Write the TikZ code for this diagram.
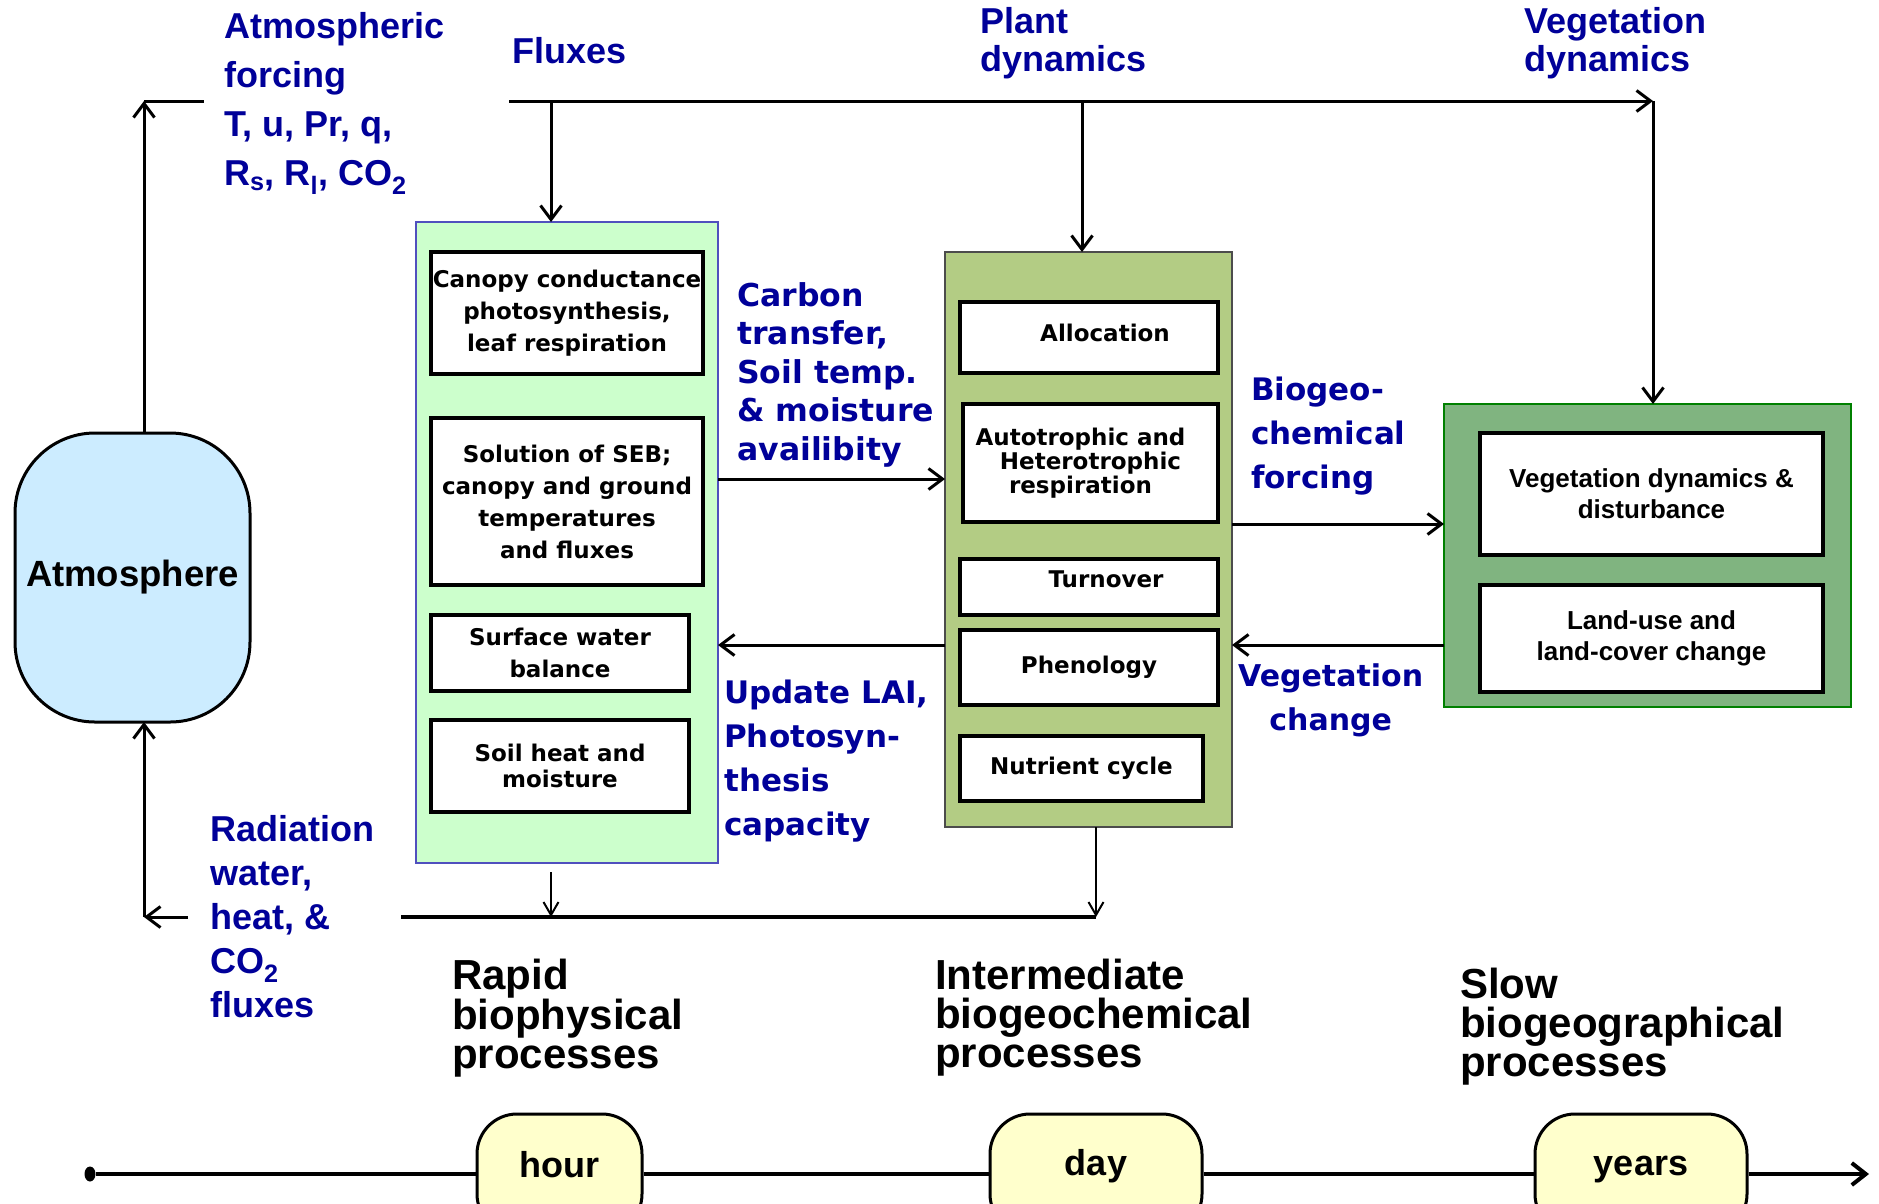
\documentclass[tikz,border=0pt]{standalone}
\usepackage{fontspec}
\setmainfont{Liberation Sans}
\newfontfamily\widefont{DejaVu Sans}
\usetikzlibrary{positioning}
\usetikzlibrary{arrows.meta,shapes}
\usetikzlibrary{calc}
\definecolor{navy}{RGB}{0,0,153}
\definecolor{atmblue}{RGB}{204,236,255}
\definecolor{rapidgreen}{RGB}{204,255,204}
\definecolor{rapidedge}{RGB}{80,80,190}
\definecolor{plantgreen}{RGB}{179,204,132}
\definecolor{vegfill}{RGB}{128,180,128}
\definecolor{vegedge}{RGB}{0,128,0}
\definecolor{pillyellow}{RGB}{255,255,204}
\tikzstyle{container} = [draw, line width=1.5pt, inner sep=0pt, outer sep=0pt]
\tikzstyle{smallbox} = [draw=black, line width=3.5pt, fill=white, inner sep=0pt, align=center, font=\widefont\bfseries\fontsize{23}{32}\selectfont]
\tikzstyle{vegsmallbox} = [smallbox, font=\bfseries\fontsize{26}{31}\selectfont]
\tikzstyle{edge} = [draw, line width=3pt, -{Straight Barb[length=14pt,width=21pt]}]
\tikzstyle{thinedge} = [draw, line width=2pt, -{Straight Barb[length=13pt,width=15pt]}]
\tikzstyle{plainedge} = [draw, line width=3pt]
\tikzstyle{bluelabel} = [text=navy, inner sep=0pt, anchor=north west, align=left, font=\bfseries\fontsize{36}{49}\selectfont]
\tikzstyle{bluewide} = [bluelabel, font=\widefont\bfseries\fontsize{31}{44}\selectfont]
\tikzstyle{timescale} = [inner sep=0pt, anchor=north west, align=left, font=\bfseries\fontsize{42}{39}\selectfont]
\tikzstyle{pill} = [draw, line width=3pt, fill=pillyellow, rounded corners=40pt, minimum height=120pt, font=\bfseries\fontsize{36}{40}\selectfont, text height=26pt, text depth=24pt]

\begin{document}
\begin{tikzpicture}[x=1pt,y=-1pt]
    \useasboundingbox (0,0) rectangle (1879,1203);

    % big boxes
    \node[container, fill=atmblue, line width=3pt, rounded corners=80pt, minimum width=235pt, minimum height=289pt, font=\bfseries\fontsize{36.5}{40}\selectfont] (atm) at (132.5,577.5) {Atmosphere};
    \node[container, draw=rapidedge, fill=rapidgreen, minimum width=302pt, minimum height=641pt] (rapid) at (567,542.5) {};
    \node[container, draw=black!70, fill=plantgreen, minimum width=287pt, minimum height=575pt] (plant) at (1088.5,539.5) {};
    \node[container, draw=vegedge, fill=vegfill, minimum width=407pt, minimum height=303pt] (vegbox) at (1647.5,555.5) {};

    \foreach \pos/\name/\w/\h/\txt in {{(567,313)/canopy/272pt/122pt/{Canopy conductance\\photosynthesis,\\leaf respiration}}, {(567,501.5)/seb/272pt/167pt/{Solution of SEB;\\canopy and ground\\temperatures\\and fluxes}}, {(560,653)/surfwater/258pt/76pt/{Surface water\\balance}}, {(560,766)/soilheat/258pt/92pt/{Soil heat and\\[-6pt]moisture}}, {(1089,337.5)/alloc/258pt/71pt/{\hspace*{32pt}Allocation\rule[-9pt]{0pt}{9pt}}}, {(1090.5,463)/resp/255pt/118pt/{Autotrophic and\hspace*{20pt}\\[-8pt]Heterotrophic\hspace*{20pt}\\[-8pt]respiration\hspace*{20pt}}}, {(1089,587)/turnover/258pt/56pt/{\hspace*{34pt}Turnover\rule[-16pt]{0pt}{16pt}}}, {(1089,667.5)/phenology/258pt/75pt/{Phenology}}, {(1081.5,768.5)/nutrient/243pt/65pt/{Nutrient cycle}}}
        \node[smallbox, minimum width=\w, minimum height=\h] (\name) at \pos {\txt};

    \foreach \pos/\name/\h/\txt in {{(1651.5,494)/vegdist/122pt/{Vegetation dynamics \&\\disturbance}}, {(1651.5,638.5)/landuse/107pt/{Land-use and\\land-cover change}}}
        \node[vegsmallbox, minimum width=343pt, minimum height=\h] (\name) at \pos {\txt};

    % top lines
    \coordinate (atmtop) at (144,101);
    \coordinate (atmtopend) at (204,101);
    \coordinate (fluxstart) at (509,101);
    \coordinate (vegcorner) at (1653,101);
    \coordinate (fluxdown) at (551,101);
    \coordinate (plantdown) at (1082,101);
    \draw[edge] (atmtop |- atm.north) -- (atmtop);
    \draw[plainedge] (atmtop) -- (atmtopend);
    \draw[edge] (fluxstart) -- (vegcorner);
    \draw[edge] (vegcorner) -- (vegcorner |- vegbox.north);
    \draw[edge] (fluxdown) -- (fluxdown |- rapid.north);
    \draw[edge] (plantdown) -- (plantdown |- plant.north);

    % between boxes
    \draw[edge] ([yshift=63.5pt]rapid.east) -- ([yshift=63.5pt]rapid.east -| plant.west);
    \draw[edge] ([yshift=-102.5pt]rapid.east -| plant.west) -- ([yshift=-102.5pt]rapid.east);
    \draw[edge] ([yshift=15.5pt]plant.east) -- ([yshift=15.5pt]plant.east -| vegbox.west);
    \draw[edge] ([yshift=-105.5pt]plant.east -| vegbox.west) -- ([yshift=-105.5pt]plant.east);

    % return fluxes
    \coordinate (retL) at (144,917);
    \coordinate (retLstart) at (188,917);
    \coordinate (retstart) at (401,917);
    \coordinate (retend) at (1096,917);
    \coordinate (rapidout) at (551,872);
    \draw[edge] (retLstart) -- (retL);
    \draw[edge] (retL) -- (retL |- atm.south);
    \draw[plainedge, line width=3.5pt] (retstart) -- (retend);
    \draw[thinedge] (rapidout) -- (rapidout |- retend);
    \draw[thinedge] (retend |- plant.south) -- (retend);

    % labels
    \node[bluelabel] (atmforce) at (224,12) {Atmospheric\\forcing\\T, u, Pr, q,\\R\textsubscript{s}, R\textsubscript{l}, CO\textsubscript{2}};
    \node[bluelabel] (fluxlbl) at (512,37) {Fluxes};
    \node[bluelabel, font=\bfseries\fontsize{36}{38}\selectfont] (plantlbl) at (980,7) {Plant\\dynamics};
    \node[bluelabel, font=\bfseries\fontsize{36}{38}\selectfont] (veglbl) at (1524,7) {Vegetation\\dynamics};
    \node[bluewide, font=\widefont\bfseries\fontsize{31.5}{38.5}\selectfont] (carbonlbl) at (737,282) {Carbon\\transfer,\\Soil temp.\\\& moisture\\availibity};
    \node[bluewide] (updatelbl) at (724,680) {Update LAI,\\Photosyn-\\thesis\\capacity};
    \node[bluewide] (biogeolbl) at (1251,377) {Biogeo-\\chemical\\forcing};
    \node[bluewide, align=center, font=\widefont\bfseries\fontsize{30}{44}\selectfont] (vegchangelbl) at (1238,663) {Vegetation\\change};
    \node[bluelabel, font=\bfseries\fontsize{36}{44}\selectfont] (radlbl) at (210,815) {Radiation\\water,\\heat, \&\\CO\textsubscript{2}\\fluxes};

    \node[timescale] (rapidlbl) at (452,959) {Rapid\\biophysical\\processes};
    \node[timescale] (interlbl) at (935,959) {Intermediate\\biogeochemical\\processes};
    \node[timescale] (slowlbl) at (1460,968) {Slow\\biogeographical\\processes};

    % time axis
    \node[ellipse, fill=black, minimum width=11pt, minimum height=15pt, inner sep=0pt] (tstart) at (90,1174) {};
    \coordinate (tend) at (1869,1174);
    \node[pill, minimum width=165pt, text depth=20pt] (hour) at (559.5,1174) {hour};
    \node[pill, minimum width=212pt] (day) at (1096,1174) {day};
    \node[pill, minimum width=212pt] (years) at (1641,1174) {years};
    \draw[line width=4pt] (tstart) -- (hour);
    \draw[line width=4pt] (hour) -- (day);
    \draw[line width=4pt] (day) -- (years);
    \draw[line width=4pt, -{Straight Barb[length=14pt,width=22pt]}] (years) -- (tend);
\end{tikzpicture}
\end{document}
